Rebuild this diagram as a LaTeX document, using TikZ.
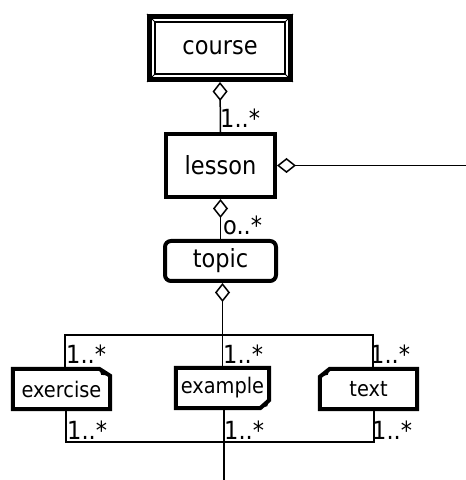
\documentclass[tikz,border=0pt]{standalone}
\usepackage{fontspec}
\setmainfont{DejaVu Sans Condensed}
\usetikzlibrary{arrows.meta}
\tikzset{
  big/.style={font=\fontsize{25}{29}\selectfont},
  small/.style={font=\fontsize{21.5}{25}\selectfont},
  mult/.style={font=\fontsize{25}{29}\selectfont, anchor=base west, inner sep=0pt},
  thick box/.style={draw, line width=4pt, inner sep=0pt},
  plain box/.style={draw=none, inner sep=0pt},
  conn/.style={line width=1.5pt},
  agg/.style={conn, {Diamond[open, length=19pt, width=15pt, line width=1.5pt]}-},
  outline/.style={line width=4pt, line join=miter},
}
\begin{document}
\begin{tikzpicture}[x=1pt, y=1pt]
\useasboundingbox (0,0) rectangle (466,480);
% course
\node[big, draw, line width=5pt, inner sep=0pt, minimum width=141, minimum height=63] (course) at (220,432) {course};
\draw[line width=2.5pt] ([shift={(8,-8)}]course.north west) rectangle ([shift={(-8,8)}]course.south east);
\draw[line width=1pt] (course.north west) -- ([shift={(8,-8)}]course.north west)
  (course.north east) -- ([shift={(-8,-8)}]course.north east)
  (course.south west) -- ([shift={(8,8)}]course.south west)
  (course.south east) -- ([shift={(-8,8)}]course.south east);
% lesson
\node[big, thick box, minimum width=109, minimum height=63] (lesson) at (220.5,314.5) {lesson};
% topic
\node[big, thick box, rounded corners=6pt, minimum width=111, minimum height=40] (topic) at (220.5,219) {topic};
% leaf boxes
\node[small, plain box, minimum width=97, minimum height=40] (ex) at (61.5,91) {exercise};
\node[small, plain box, minimum width=93, minimum height=40] (exa) at (222.5,92) {example};
\node[small, plain box, minimum width=97, minimum height=40] (tx) at (368.5,91) {text};
\draw[outline] (ex.north west) -- ([xshift=-11pt]ex.north east) -- ([yshift=-7pt]ex.north east) -- (ex.south east) -- (ex.south west) -- cycle;
\fill ([xshift=-11pt]ex.north east) -- ([xshift=-9pt,yshift=-6pt]ex.north east) -- ([yshift=-7pt]ex.north east) -- cycle;
\draw[outline] (exa.north west) -- (exa.north east) -- ([yshift=8pt]exa.south east) -- ([xshift=-9pt]exa.south east) -- (exa.south west) -- cycle;
\fill ([yshift=8pt]exa.south east) -- ([xshift=-2pt,yshift=2pt]exa.south east) -- ([xshift=-9pt]exa.south east) -- cycle;
\draw[outline] ([yshift=-8pt]tx.north west) -- ([xshift=10pt]tx.north west) -- (tx.north east) -- (tx.south east) -- (tx.south west) -- cycle;
\fill ([yshift=-8pt]tx.north west) -- ([xshift=10pt]tx.north west) -- ([xshift=8pt,yshift=-6pt]tx.north west) -- cycle;
% coordinates
\coordinate (ta) at (65,145);
\coordinate (tc) at (373,145);
\coordinate (ba) at (66,38);
\coordinate (bc) at (374,38);
\coordinate (bend) at (224,0);
\coordinate (rend) at (466,315);
% connectors
\draw[agg] (course.south) -- (lesson.north);
\draw[agg] (lesson.east) -- (lesson.east -| rend);
\draw[agg] (lesson.south) -- (topic.north);
\draw[agg] (exa.north |- topic.south) -- (exa.north);
\draw[conn] (ex.north -| ta) -- (ta) -- (tc) -- (tx.north -| tc);
\draw[conn] (ex.south -| ba) -- (ba) -- (bc) -- (tx.south -| bc);
\draw[conn] (exa.south -| bend) -- (bend);
% multiplicities
\node[mult] (m1) at (220,352) {1..*};
\node[mult] (m2) at (223,245) {o..*};
\node[mult] (m3) at (66,116) {1..*};
\node[mult] (m4) at (223,116) {1..*};
\node[mult] (m5) at (370,116) {1..*};
\node[mult] (m6) at (67,40) {1..*};
\node[mult] (m7) at (224,40) {1..*};
\node[mult] (m8) at (372,40) {1..*};
\end{tikzpicture}
\end{document}
